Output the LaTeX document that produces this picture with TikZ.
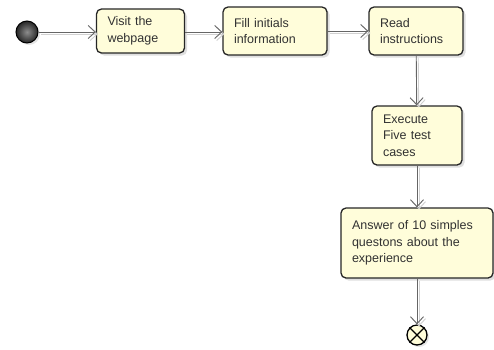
\documentclass[tikz,border=0pt]{standalone}
\usepackage{fontspec}
\setmainfont{Liberation Sans}
\usetikzlibrary{positioning,arrows.meta,shadows}

\definecolor{actfill}{RGB}{255,253,218}
\definecolor{txtgray}{RGB}{50,50,50}

\tikzset{
  action/.style={draw=black!85, line width=1.3pt, rounded corners=5pt,
    fill=actfill, drop shadow={shadow xshift=2.5pt, shadow yshift=-2.5pt, fill=black!25},
    inner xsep=11pt, inner ysep=2pt, align=left, text=txtgray,
    font=\fontsize{12.5}{16.5}\selectfont},
  flow/.style={draw=black!60, line width=0.9pt,
    -{Straight Barb[length=7pt,width=13pt]},
    preaction={draw=black!18, line width=0.9pt, transform canvas={shift={(2pt,-2pt)}}}}
}

\begin{document}
\begin{tikzpicture}[x=1pt,y=-1pt]
  \useasboundingbox (0,0) rectangle (494,349);

  \node (start) [circle, minimum size=22pt, inner sep=0pt, draw=black, line width=1pt,
    inner color=black!45, outer color=black!85,
    drop shadow={shadow xshift=2pt, shadow yshift=-2pt, fill=black!20}] at (27,32) {};

  \node (visit) [action, text width=66pt, minimum height=44pt] at (140.5,31) {Visit the\\webpage};
  \node (fill) [action, text width=82pt, minimum height=48pt] at (275,31) {Fill initials\\information};
  \node (read) [action, text width=72pt, minimum height=48pt] at (416,31) {Read\\instructions};
  \node (exec) [action, text width=68pt, minimum height=59pt] at (417,135.5) {Execute\\Five test\\cases};
  \node (answer) [action, text width=130pt, minimum height=70pt] at (417,243) {Answer of 10 simples\\questons about the\\experience};

  \node (end) [circle, minimum size=20pt, inner sep=0pt, draw=black, line width=1.3pt,
    fill=actfill, drop shadow={shadow xshift=2pt, shadow yshift=-2pt, fill=black!20}] at (417,335) {};
  \draw[line width=1.3pt] (end.north east) -- (end.south west)
    (end.north west) -- (end.south east);

  \path
    (start) edge[flow] (visit.west |- start)
    (visit.east |- start) edge[flow] (fill.west |- start)
    (fill) edge[flow] (read)
    (read) edge[flow] (exec)
    (exec) edge[flow] (answer)
    (answer) edge[flow] (end);
\end{tikzpicture}
\end{document}
